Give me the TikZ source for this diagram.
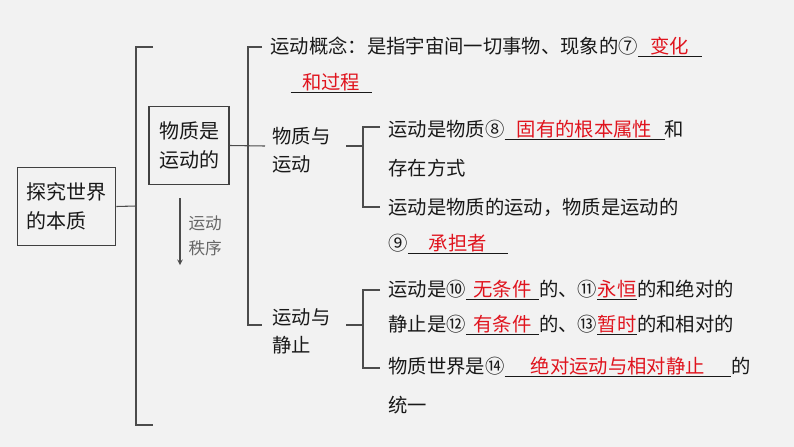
\documentclass[tikz,border=0pt]{standalone}
\usepackage{fontspec}
\setmainfont{Noto Sans CJK SC}
\definecolor{ansred}{HTML}{E0141E}
\definecolor{bg}{HTML}{F2F2F2}
\newcommand\ans[2]{\underline{\makebox[#1pt]{\color{ansred}#2}}}
\begin{document}
\begin{tikzpicture}[x=0.75pt,y=-0.75pt,line width=0.8pt,
  txt/.style={anchor=west,inner sep=0pt,font=\fontsize{14.5}{21}\selectfont,text=black!90},
  bx/.style={draw=black!75,inner sep=3pt,align=left,font=\fontsize{15}{22}\selectfont,text=black!90},
  ln/.style={draw=black!70}]
\fill[bg] (0,0) rectangle (794,447);
\useasboundingbox (0,0) rectangle (794,447);
\node[bx,minimum width=74pt,minimum height=59pt] (b1) at (66.5,206.5) {探究世界\\的本质};
\node[bx,minimum width=60pt,minimum height=59pt] (b2) at (189,145.5) {物质是\\运动的};
\coordinate (t1) at (136,47); \coordinate (t1b) at (136,425);
\coordinate (c1) at (136,206);
\draw[ln] (b1.east) -- (c1);
\draw[ln] (153,47) -- (t1) -- (t1b) -- (153,425);
\draw[ln] (b2.east) -- (265,146);
\draw[ln] (262,47) -- (248,47) -- (248,325) -- (262,325);
\draw[ln,->,>=stealth] (180,198) -- (180,265);
\node[txt,text=black!60,font=\fontsize{12.5}{19}\selectfont,align=left] (order) at (188,236) {运动\\秩序};
\node[txt] (g) at (270,47) {运动概念：是指宇宙间一切事物、现象的⑦\ans{48}{变化}};
\node[txt] (g2) at (290,83) {\ans{61}{和过程}};
\node[txt,align=left] (m) at (272,150) {物质与\\运动};
\draw[ln] (346,146) -- (363,146);
\draw[ln] (380,127) -- (363,127) -- (363,207) -- (380,207);
\node[txt] (m1) at (388,130) {运动是物质⑧\ans{120}{固有的根本属性}和};
\node[txt] (m2) at (388,168) {存在方式};
\node[txt] (m3) at (388,207) {运动是物质的运动，物质是运动的};
\node[txt] (m4) at (388,244) {⑨\ans{75}{承担者}};
\node[txt,align=left] (s) at (272,331) {运动与\\静止};
\draw[ln] (346,325) -- (363,325);
\draw[ln] (380,290) -- (363,290) -- (363,368) -- (380,368);
\node[txt] (s1) at (388,290) {运动是⑩\ans{55}{无条件}的、⑪\ans{30}{永恒}的和绝对的};
\node[txt] (s2) at (388,325) {静止是⑫\ans{55}{有条件}的、⑬\ans{30}{暂时}的和相对的};
\node[txt] (s3) at (388,367) {物质世界是⑭\ans{170}{绝对运动与相对静止}的};
\node[txt] (s4) at (388,405) {统一};
\end{tikzpicture}
\end{document}
